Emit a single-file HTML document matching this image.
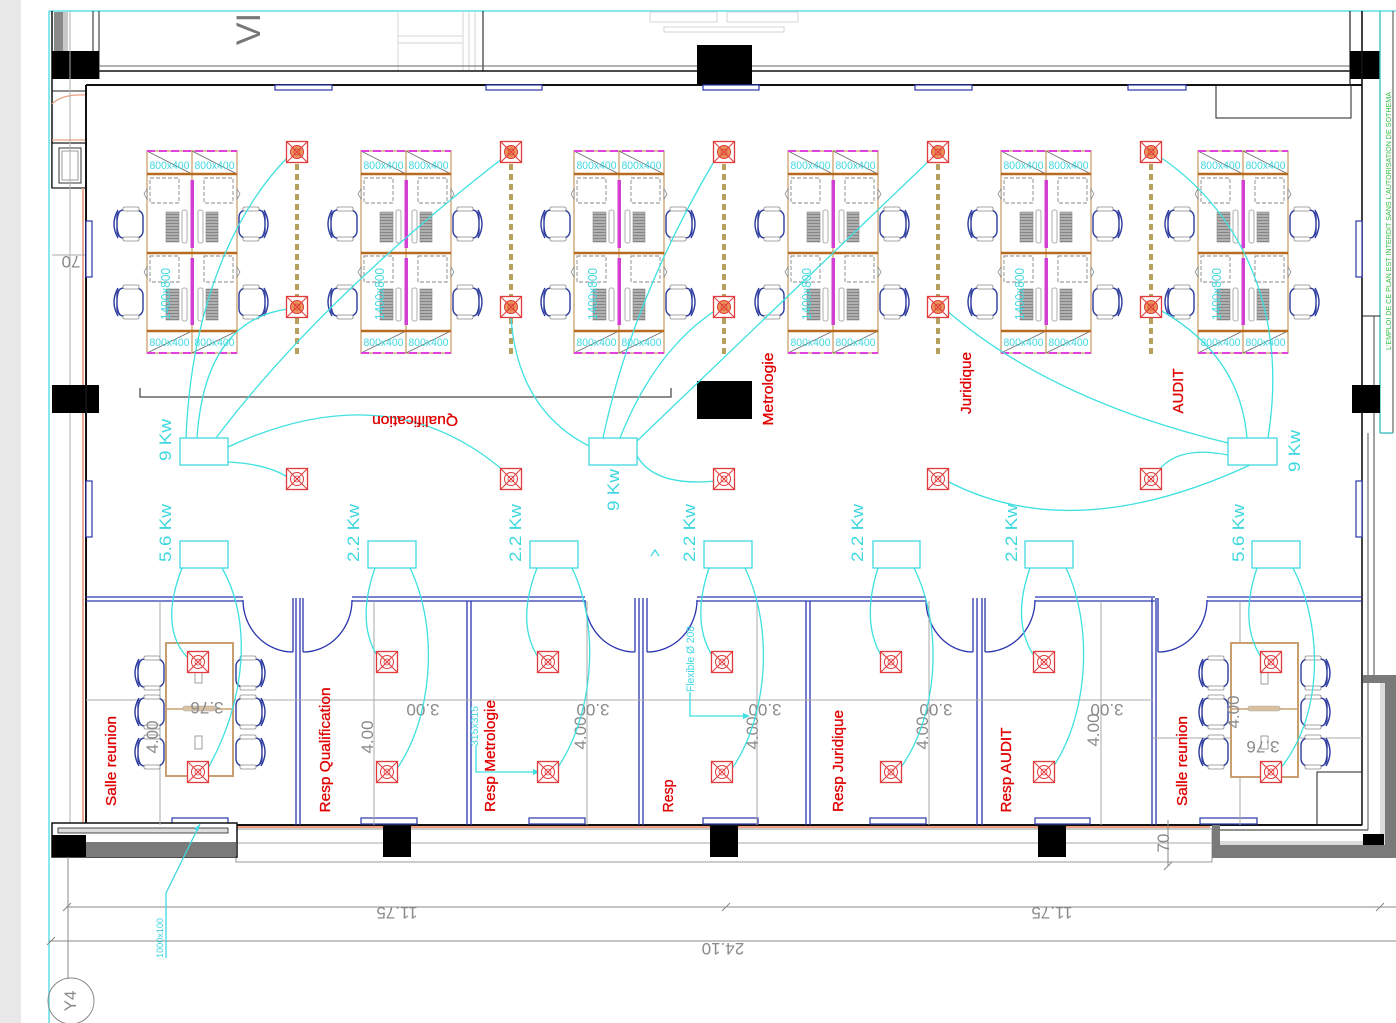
<!DOCTYPE html>
<html><head><meta charset="utf-8"><style>
html,body{margin:0;padding:0;background:#fff;}
svg{display:block}
text{font-family:"Liberation Sans",Arial,sans-serif}
</style></head><body>
<svg width="1396" height="1023" viewBox="0 0 1396 1023" xmlns="http://www.w3.org/2000/svg">
<defs>
<pattern id="tw" width="4" height="3" patternUnits="userSpaceOnUse"><rect width="4" height="3" fill="#b0b0b0"/><line x1="0" y1="0.5" x2="4" y2="0.5" stroke="#7a7a7a" stroke-width="0.8"/></pattern>
<g id="cl">
 <rect x="0" y="0" width="90" height="202" fill="#fff" stroke="#c99a60" stroke-width="1.2"/>
 <line x1="45" y1="0" x2="45" y2="202" stroke="#c99a60" stroke-width="1.2"/>
 <path d="M0,0 L45,23 M45,0 L90,23 M0,202 L45,180 M45,202 L90,180" stroke="#666" stroke-width="0.8" fill="none"/>
 <path d="M0,23 H90 M0,102 H90 M0,180 H90" stroke="#b86a20" stroke-width="2.5"/>
 <line x1="0" y1="0" x2="90" y2="0" stroke="#e040e0" stroke-width="2" stroke-dasharray="8,4"/>
 <line x1="0" y1="202" x2="90" y2="202" stroke="#e040e0" stroke-width="2" stroke-dasharray="8,4"/>
 <rect x="43.5" y="29" width="3.5" height="68" fill="#d23fd2"/>
 <rect x="43.5" y="107" width="3.5" height="67" fill="#d23fd2"/>
 <g fill="none" stroke="#888" stroke-width="0.9" stroke-dasharray="4,2">
  <rect x="3" y="27" width="29" height="25"/><rect x="57" y="27" width="29" height="25"/>
  <rect x="3" y="105" width="29" height="26"/><rect x="57" y="105" width="29" height="26"/>
 </g>
 <g fill="url(#tw)" stroke="#888" stroke-width="0.6">
  <rect x="19" y="61" width="13" height="30"/><rect x="59" y="61" width="12" height="30"/>
  <rect x="19" y="138" width="13" height="31"/><rect x="59" y="138" width="12" height="31"/>
 </g>
 <g fill="#fff" stroke="#999" stroke-width="0.8">
  <rect x="35" y="59" width="5" height="33" rx="2"/><rect x="51" y="59" width="5" height="33" rx="2"/>
  <rect x="35" y="137" width="5" height="33" rx="2"/><rect x="51" y="137" width="5" height="33" rx="2"/>
 </g>
 <g fill="#fff" stroke="#777" stroke-width="0.7">
  <path d="M0,38 L-3,43 L0,48 Z"/><path d="M90,38 L93,43 L90,48 Z"/>
  <path d="M0,116 L-3,121 L0,126 Z"/><path d="M90,116 L93,121 L90,126 Z"/>
 </g>
</g>
<g id="ch">
 <rect x="4" y="3" width="26" height="28" rx="7" fill="#fff" stroke="#2b3a9e" stroke-width="1.4"/>
 <path d="M5,3 Q-3,17 5,31" fill="none" stroke="#2b3a9e" stroke-width="1.4"/>
 <path d="M7,4 Q1,17 7,30" fill="none" stroke="#2b3a9e" stroke-width="0.8"/>
 <rect x="10" y="0" width="16" height="4" rx="1.5" fill="#fff" stroke="#888" stroke-width="0.8"/>
 <rect x="10" y="30" width="16" height="4" rx="1.5" fill="#fff" stroke="#888" stroke-width="0.8"/>
</g>
<g id="rbf">
 <rect x="-10.5" y="-10.5" width="21" height="21" fill="#fff" stroke="#e23a3a" stroke-width="1.3"/>
 <circle r="6.5" fill="#e8945a"/>
 <path d="M-10.5,-10.5 L10.5,10.5 M10.5,-10.5 L-10.5,10.5" stroke="#e23a3a" stroke-width="1"/>
 <circle r="6.5" fill="none" stroke="#e23a3a" stroke-width="1"/>
 <circle r="3" fill="none" stroke="#e23a3a" stroke-width="0.8"/>
</g>
<g id="rb">
 <rect x="-10.5" y="-10.5" width="21" height="21" fill="#fff" stroke="#e23a3a" stroke-width="1.3"/>
 <path d="M-10.5,-10.5 L10.5,10.5 M10.5,-10.5 L-10.5,10.5" stroke="#e23a3a" stroke-width="1"/>
 <circle r="6.5" fill="none" stroke="#e23a3a" stroke-width="1"/>
 <circle r="3" fill="none" stroke="#e23a3a" stroke-width="0.8"/>
</g>
</defs>

<!-- background strips -->
<rect x="0" y="0" width="21" height="1023" fill="#e8e8e8"/>
<line x1="49" y1="11" x2="49" y2="1023" stroke="#5fe0e6" stroke-width="1.5"/>
<line x1="49" y1="11" x2="1396" y2="11" stroke="#5fe0e6" stroke-width="1.5"/>

<!-- faint gray top items -->
<g fill="none" stroke="#d4d4d4" stroke-width="1">
 <rect x="650" y="12" width="67" height="10"/><rect x="727" y="12" width="71" height="10"/><rect x="664" y="27" width="120" height="5"/>
 <line x1="398" y1="11" x2="398" y2="71"/><line x1="398" y1="36" x2="463" y2="36"/><line x1="398" y1="43" x2="463" y2="43"/>
 <line x1="463" y1="11" x2="463" y2="71"/><line x1="469" y1="11" x2="469" y2="71"/><line x1="475" y1="11" x2="475" y2="71"/>
</g>
<line x1="483" y1="11" x2="483" y2="71" stroke="#333" stroke-width="1.2"/>
<text transform="translate(248,29) rotate(-90)" text-anchor="middle" y="12" font-size="34" fill="#777">VI</text>

<!-- top-left column -->
<rect x="54" y="12" width="14" height="39" fill="#8a8a8a"/>
<rect x="63" y="12" width="5" height="39" fill="#c8c8c8"/>
<line x1="52" y1="11" x2="52" y2="188" stroke="#111" stroke-width="1.5"/>
<line x1="93" y1="11" x2="93" y2="79" stroke="#222" stroke-width="1"/>
<line x1="99" y1="11" x2="99" y2="79" stroke="#222" stroke-width="1"/>
<rect x="52" y="51" width="47" height="28" fill="#000"/>
<line x1="52" y1="91" x2="86" y2="91" stroke="#222" stroke-width="1"/>
<path d="M52,104 Q62,94 85,95" fill="none" stroke="#e8a080" stroke-width="1.2"/>
<line x1="52" y1="140" x2="86" y2="140" stroke="#e8a080" stroke-width="1.2"/>
<rect x="52" y="143" width="34" height="45" fill="#fff" stroke="#111" stroke-width="1.2"/>
<rect x="59" y="148" width="22" height="35" fill="none" stroke="#333" stroke-width="1"/>
<rect x="62" y="151" width="16" height="29" fill="none" stroke="#999" stroke-width="1"/>
<line x1="70" y1="11" x2="70" y2="825" stroke="#b0b0b0" stroke-width="1"/>
<line x1="83" y1="188" x2="83" y2="825" stroke="#eba088" stroke-width="1.8"/>
<line x1="52" y1="255" x2="86" y2="255" stroke="#aaa" stroke-width="1"/>
<text transform="translate(71,262) rotate(180)" text-anchor="middle" y="6" font-size="17" fill="#8a8a8a">70</text>

<!-- top walls -->
<line x1="99" y1="66" x2="1350" y2="66" stroke="#666" stroke-width="1"/>
<line x1="99" y1="71" x2="1350" y2="71" stroke="#111" stroke-width="1.5"/>
<line x1="86" y1="85" x2="1362" y2="85" stroke="#111" stroke-width="2"/>
<rect x="697" y="45" width="55" height="40" fill="#000"/>

<!-- right side -->
<line x1="1350" y1="11" x2="1350" y2="85" stroke="#222" stroke-width="1.2"/>
<rect x="1350" y="51" width="30" height="28" fill="#000"/>
<line x1="1362" y1="11" x2="1362" y2="825" stroke="#111" stroke-width="1.6"/>
<line x1="1380" y1="11" x2="1380" y2="433" stroke="#40c0c0" stroke-width="1.4"/>
<line x1="1393" y1="11" x2="1393" y2="433" stroke="#444" stroke-width="1"/>
<line x1="1380" y1="433" x2="1393" y2="433" stroke="#40c0c0" stroke-width="1.4"/>
<text transform="translate(1388,221) rotate(-90)" text-anchor="middle" y="3" font-size="7.5" fill="#30c040" textLength="258" lengthAdjust="spacingAndGlyphs">L'EMPLOI DE CE PLAN EST INTERDIT SANS L'AUTORISATION DE SOTHEMA</text>
<rect x="1216" y="85" width="135" height="33" fill="none" stroke="#222" stroke-width="1"/>
<line x1="1362" y1="316" x2="1380" y2="316" stroke="#222" stroke-width="1"/>
<line x1="1374" y1="316" x2="1374" y2="675" stroke="#444" stroke-width="1"/>
<line x1="1368" y1="433" x2="1368" y2="830" stroke="#555" stroke-width="1"/>
<rect x="1352" y="385" width="28" height="28" fill="#000"/>
<rect x="52" y="385" width="47" height="28" fill="#000"/>

<!-- main room walls -->
<line x1="86" y1="85" x2="86" y2="825" stroke="#111" stroke-width="2"/>
<line x1="86" y1="825" x2="1362" y2="825" stroke="#111" stroke-width="2"/>

<!-- windows -->
<g fill="#fff" stroke="#2b36a8" stroke-width="1.2">
 <rect x="275" y="85" width="57" height="5"/><rect x="486" y="85" width="56" height="5"/><rect x="703" y="85" width="56" height="5"/><rect x="915" y="85" width="57" height="5"/><rect x="1128" y="85" width="58" height="5"/>
 <rect x="172" y="818" width="56" height="6"/><rect x="361" y="818" width="56" height="6"/><rect x="529" y="818" width="56" height="6"/><rect x="703" y="818" width="55" height="6"/><rect x="870" y="818" width="56" height="6"/><rect x="1035" y="818" width="55" height="6"/><rect x="1200" y="818" width="57" height="6"/>
 <rect x="86" y="221" width="6" height="56"/><rect x="86" y="481" width="6" height="56"/>
 <rect x="1356" y="221" width="6" height="56"/><rect x="1356" y="481" width="6" height="56"/>
</g>

<!-- bottom strip -->
<line x1="236" y1="827" x2="1210" y2="827" stroke="#f0a080" stroke-width="2"/>
<rect x="236" y="829" width="976" height="33" fill="none" stroke="#999" stroke-width="1"/>
<line x1="236" y1="843" x2="1212" y2="843" stroke="#aaa" stroke-width="1"/>
<rect x="383" y="826" width="28" height="31" fill="#000"/>
<rect x="710" y="826" width="28" height="31" fill="#000"/>
<rect x="1038" y="826" width="28" height="31" fill="#000"/>
<!-- bottom left -->
<rect x="52" y="823" width="185" height="34" fill="#fff" stroke="#111" stroke-width="1.5"/>
<rect x="58" y="828" width="170" height="5" fill="#ddd" stroke="#222" stroke-width="0.8"/>
<rect x="86" y="842" width="150" height="15" fill="#7a7a7a"/>
<rect x="52" y="835" width="34" height="22" fill="#000"/>
<!-- bottom right -->
<path d="M1212,825 H1220 V845 H1380 V683 H1363 V675 H1396 V858 H1212 Z" fill="#7a7a7a"/>
<rect x="1220" y="841" width="160" height="4" fill="#dcdcdc"/>
<rect x="1380" y="683" width="5" height="162" fill="#dcdcdc"/>
<line x1="1220" y1="830" x2="1368" y2="830" stroke="#222" stroke-width="1"/>
<rect x="1363" y="834" width="21" height="11" fill="#000"/>
<rect x="1317" y="772" width="45" height="53" fill="none" stroke="#222" stroke-width="1"/>

<!-- dimension lines bottom -->
<g stroke="#888" stroke-width="1" fill="none">
 <line x1="66" y1="907" x2="1396" y2="907"/>
 <line x1="49" y1="941" x2="1396" y2="941"/>
 <line x1="68" y1="857" x2="68" y2="979"/>
 <path d="M63,911 L71,903 M722,911 L730,903 M1376,911 L1384,903 M47,945 L55,937"/>
 <circle cx="71" cy="1001" r="23"/>
 <line x1="1168" y1="820" x2="1168" y2="866"/>
 <path d="M1164,870 L1172,862"/>
</g>
<g fill="#8a8a8a" font-size="17" text-anchor="middle">
 <text transform="translate(397,913) rotate(180)" y="6">11.75</text>
 <text transform="translate(1052,913) rotate(180)" y="6">11.75</text>
 <text transform="translate(723,949) rotate(180)" y="6">24.10</text>
 <text transform="translate(70,1001) rotate(-90)" y="6">Y4</text>
 <text transform="translate(1163,843) rotate(-90)" y="6">70</text>
</g>
<path d="M200,824 L166,893 L166,958" fill="none" stroke="#3fd8e0" stroke-width="1.3"/>
<path d="M200,824 L194,829 L198,831 Z" fill="#3fd8e0"/>
<text transform="translate(160,938) rotate(-90)" text-anchor="middle" y="3" font-size="9" fill="#3fd8e0" textLength="40" lengthAdjust="spacingAndGlyphs">1000x100</text>

<!-- workstation clusters -->
<use href="#cl" x="147" y="151"/>
<use href="#cl" x="361" y="151"/>
<use href="#cl" x="574" y="151"/>
<use href="#cl" x="788" y="151"/>
<use href="#cl" x="1001" y="151"/>
<use href="#cl" x="1198" y="151"/>
<g fill="#3fd8e0" font-size="11" text-anchor="middle">
 <text x="169.5" y="169" textLength="40" lengthAdjust="spacingAndGlyphs">800x400</text><text x="214.5" y="169" textLength="40" lengthAdjust="spacingAndGlyphs">800x400</text><text x="169.5" y="346" textLength="40" lengthAdjust="spacingAndGlyphs">800x400</text><text x="214.5" y="346" textLength="40" lengthAdjust="spacingAndGlyphs">800x400</text>
 <text x="383.5" y="169" textLength="40" lengthAdjust="spacingAndGlyphs">800x400</text><text x="428.5" y="169" textLength="40" lengthAdjust="spacingAndGlyphs">800x400</text><text x="383.5" y="346" textLength="40" lengthAdjust="spacingAndGlyphs">800x400</text><text x="428.5" y="346" textLength="40" lengthAdjust="spacingAndGlyphs">800x400</text>
 <text x="596.5" y="169" textLength="40" lengthAdjust="spacingAndGlyphs">800x400</text><text x="641.5" y="169" textLength="40" lengthAdjust="spacingAndGlyphs">800x400</text><text x="596.5" y="346" textLength="40" lengthAdjust="spacingAndGlyphs">800x400</text><text x="641.5" y="346" textLength="40" lengthAdjust="spacingAndGlyphs">800x400</text>
 <text x="810.5" y="169" textLength="40" lengthAdjust="spacingAndGlyphs">800x400</text><text x="855.5" y="169" textLength="40" lengthAdjust="spacingAndGlyphs">800x400</text><text x="810.5" y="346" textLength="40" lengthAdjust="spacingAndGlyphs">800x400</text><text x="855.5" y="346" textLength="40" lengthAdjust="spacingAndGlyphs">800x400</text>
 <text x="1023.5" y="169" textLength="40" lengthAdjust="spacingAndGlyphs">800x400</text><text x="1068.5" y="169" textLength="40" lengthAdjust="spacingAndGlyphs">800x400</text><text x="1023.5" y="346" textLength="40" lengthAdjust="spacingAndGlyphs">800x400</text><text x="1068.5" y="346" textLength="40" lengthAdjust="spacingAndGlyphs">800x400</text>
 <text x="1220.5" y="169" textLength="40" lengthAdjust="spacingAndGlyphs">800x400</text><text x="1265.5" y="169" textLength="40" lengthAdjust="spacingAndGlyphs">800x400</text><text x="1220.5" y="346" textLength="40" lengthAdjust="spacingAndGlyphs">800x400</text><text x="1265.5" y="346" textLength="40" lengthAdjust="spacingAndGlyphs">800x400</text>
</g>
<g fill="#3fd8e0" font-size="13" text-anchor="middle">
 <text transform="translate(165,294) rotate(-90)" y="5" textLength="52" lengthAdjust="spacingAndGlyphs">1400x800</text>
 <text transform="translate(379,294) rotate(-90)" y="5" textLength="52" lengthAdjust="spacingAndGlyphs">1400x800</text>
 <text transform="translate(592,294) rotate(-90)" y="5" textLength="52" lengthAdjust="spacingAndGlyphs">1400x800</text>
 <text transform="translate(806,294) rotate(-90)" y="5" textLength="52" lengthAdjust="spacingAndGlyphs">1400x800</text>
 <text transform="translate(1019,294) rotate(-90)" y="5" textLength="52" lengthAdjust="spacingAndGlyphs">1400x800</text>
 <text transform="translate(1216,294) rotate(-90)" y="5" textLength="52" lengthAdjust="spacingAndGlyphs">1400x800</text>
</g>

<!-- chairs for clusters -->
<use href="#ch" x="113" y="207"/><use href="#ch" x="113" y="285"/>
<use href="#ch" transform="translate(269,207) scale(-1,1)"/><use href="#ch" transform="translate(269,285) scale(-1,1)"/>
<use href="#ch" x="327" y="207"/><use href="#ch" x="327" y="285"/>
<use href="#ch" transform="translate(483,207) scale(-1,1)"/><use href="#ch" transform="translate(483,285) scale(-1,1)"/>
<use href="#ch" x="540" y="207"/><use href="#ch" x="540" y="285"/>
<use href="#ch" transform="translate(696,207) scale(-1,1)"/><use href="#ch" transform="translate(696,285) scale(-1,1)"/>
<use href="#ch" x="754" y="207"/><use href="#ch" x="754" y="285"/>
<use href="#ch" transform="translate(910,207) scale(-1,1)"/><use href="#ch" transform="translate(910,285) scale(-1,1)"/>
<use href="#ch" x="967" y="207"/><use href="#ch" x="967" y="285"/>
<use href="#ch" transform="translate(1123,207) scale(-1,1)"/><use href="#ch" transform="translate(1123,285) scale(-1,1)"/>
<use href="#ch" x="1164" y="207"/><use href="#ch" x="1164" y="285"/>
<use href="#ch" transform="translate(1320,207) scale(-1,1)"/><use href="#ch" transform="translate(1320,285) scale(-1,1)"/>

<!-- dashed tan lines -->
<g stroke="#b5a060" stroke-width="4" stroke-dasharray="6,4">
 <line x1="297" y1="164" x2="297" y2="296"/><line x1="297" y1="318" x2="297" y2="357"/>
 <line x1="511" y1="164" x2="511" y2="296"/><line x1="511" y1="318" x2="511" y2="357"/>
 <line x1="724" y1="164" x2="724" y2="296"/><line x1="724" y1="318" x2="724" y2="357"/>
 <line x1="938" y1="164" x2="938" y2="296"/><line x1="938" y1="318" x2="938" y2="357"/>
 <line x1="1151" y1="164" x2="1151" y2="296"/><line x1="1151" y1="318" x2="1151" y2="357"/>
</g>

<!-- bracket + black block -->
<path d="M140,388 V397 H671 V388" fill="none" stroke="#666" stroke-width="1.5"/>
<rect x="697" y="381" width="55" height="38" fill="#000"/>

<!-- office partitions -->
<g stroke="#2b36b0" stroke-width="1.3" fill="none">
 <path d="M86,597 H243 M86,601 H243 M352,597 H585 M352,601 H585 M697,597 H926 M697,601 H926 M1035,597 H1155 M1035,601 H1155 M1207,597 H1362 M1207,601 H1362"/>
 <path d="M293,598 V652 M296,598 V825 M300,598 V825 M303,598 V652"/>
 <path d="M467,601 V825 M471,601 V825"/>
 <path d="M635,598 V652 M639,598 V825 M643,598 V825 M647,598 V652"/>
 <path d="M806,601 V825 M810,601 V825"/>
 <path d="M973,598 V652 M977,598 V825 M982,598 V825 M985,598 V652"/>
 <path d="M1152,598 V825 M1156,598 V825 M1158,598 V652"/>
 <path d="M243,600 A50,52 0 0 0 293,652"/>
 <path d="M303,652 A49,52 0 0 0 352,600"/>
 <path d="M585,600 A50,52 0 0 0 635,652"/>
 <path d="M647,652 A50,52 0 0 0 697,600"/>
 <path d="M926,600 A47,52 0 0 0 973,652"/>
 <path d="M985,652 A50,52 0 0 0 1035,600"/>
 <path d="M1158,652 A49,52 0 0 0 1207,600"/>
</g>

<!-- office dimension lines -->
<g stroke="#a8a8a8" stroke-width="1" fill="none">
 <line x1="86" y1="700" x2="1153" y2="700"/>
 <line x1="1153" y1="738" x2="1362" y2="738"/>
 <line x1="160" y1="601" x2="160" y2="825"/>
 <line x1="374" y1="601" x2="374" y2="825"/>
 <line x1="587" y1="601" x2="587" y2="825"/>
 <line x1="757" y1="601" x2="757" y2="825"/>
 <line x1="929" y1="601" x2="929" y2="825"/>
 <line x1="1101" y1="601" x2="1101" y2="825"/>
 <line x1="1240" y1="601" x2="1240" y2="825"/>
</g>

<!-- meeting tables -->
<rect x="166" y="643" width="67" height="133" fill="#fff" stroke="#c8a070" stroke-width="2"/>
<line x1="166" y1="709" x2="233" y2="709" stroke="#c8a070" stroke-width="1.5"/>
<rect x="183" y="706" width="32" height="5" rx="2" fill="#d8c0a0" stroke="#aaa" stroke-width="0.6"/>
<rect x="1231" y="643" width="67" height="134" fill="#fff" stroke="#c8a070" stroke-width="2"/>
<line x1="1231" y1="709" x2="1298" y2="709" stroke="#c8a070" stroke-width="1.5"/>
<rect x="1248" y="706" width="32" height="5" rx="2" fill="#d8c0a0" stroke="#aaa" stroke-width="0.6"/>
<g fill="#fff" stroke="#888" stroke-width="0.8">
 <rect x="195" y="670" width="7" height="13"/><rect x="195" y="736" width="7" height="13"/>
 <rect x="1261" y="671" width="7" height="13"/><rect x="1261" y="736" width="7" height="13"/>
</g>
<use href="#ch" x="134" y="656"/><use href="#ch" x="134" y="695"/><use href="#ch" x="134" y="735"/>
<use href="#ch" transform="translate(266,656) scale(-1,1)"/><use href="#ch" transform="translate(266,695) scale(-1,1)"/><use href="#ch" transform="translate(266,735) scale(-1,1)"/>
<use href="#ch" x="1198" y="656"/><use href="#ch" x="1198" y="695"/><use href="#ch" x="1198" y="735"/>
<use href="#ch" transform="translate(1331,656) scale(-1,1)"/><use href="#ch" transform="translate(1331,695) scale(-1,1)"/><use href="#ch" transform="translate(1331,735) scale(-1,1)"/>

<!-- gray dim texts -->
<g fill="#8a8a8a" font-size="17" text-anchor="middle">
 <text transform="translate(423,710) rotate(180)" y="6">3.00</text>
 <text transform="translate(593,710) rotate(180)" y="6">3.00</text>
 <text transform="translate(765,710) rotate(180)" y="6">3.00</text>
 <text transform="translate(936,710) rotate(180)" y="6">3.00</text>
 <text transform="translate(1107,710) rotate(180)" y="6">3.00</text>
 <text transform="translate(207,708) rotate(180)" y="6">3.76</text>
 <text transform="translate(1263,747) rotate(180)" y="6">3.76</text>
 <text transform="translate(152,737) rotate(-90)" y="6">4.00</text>
 <text transform="translate(367,737) rotate(-90)" y="6">4.00</text>
 <text transform="translate(580,733) rotate(-90)" y="6">4.00</text>
 <text transform="translate(752,733) rotate(-90)" y="6">4.00</text>
 <text transform="translate(922,733) rotate(-90)" y="6">4.00</text>
 <text transform="translate(1093,730) rotate(-90)" y="6">4.00</text>
 <text transform="translate(1233,712) rotate(-90)" y="6">4.00</text>
</g>

<!-- cyan panels -->
<g fill="#fff" stroke="#3fd8e0" stroke-width="1.3">
 <rect x="180" y="438" width="48" height="27"/><rect x="589" y="438" width="48" height="27"/><rect x="1228" y="438" width="49" height="27"/>
 <rect x="180" y="541" width="48" height="27"/><rect x="368" y="541" width="48" height="27"/><rect x="530" y="541" width="48" height="27"/><rect x="704" y="541" width="48" height="27"/><rect x="873" y="541" width="47" height="27"/><rect x="1025" y="541" width="48" height="27"/><rect x="1252" y="541" width="48" height="27"/>
</g>
<g fill="#3fd8e0" font-size="17" text-anchor="middle">
 <text transform="translate(165,440) rotate(-90)" y="6" textLength="42" lengthAdjust="spacingAndGlyphs">9 Kw</text>
 <text transform="translate(613,490) rotate(-90)" y="6" textLength="42" lengthAdjust="spacingAndGlyphs">9 Kw</text>
 <text transform="translate(1294,451) rotate(-90)" y="6" textLength="42" lengthAdjust="spacingAndGlyphs">9 Kw</text>
 <text transform="translate(165,533) rotate(-90)" y="6" textLength="58" lengthAdjust="spacingAndGlyphs">5.6 Kw</text>
 <text transform="translate(353,533) rotate(-90)" y="6" textLength="58" lengthAdjust="spacingAndGlyphs">2.2 Kw</text>
 <text transform="translate(515,533) rotate(-90)" y="6" textLength="58" lengthAdjust="spacingAndGlyphs">2.2 Kw</text>
 <text transform="translate(689,533) rotate(-90)" y="6" textLength="58" lengthAdjust="spacingAndGlyphs">2.2 Kw</text>
 <text transform="translate(857,533) rotate(-90)" y="6" textLength="58" lengthAdjust="spacingAndGlyphs">2.2 Kw</text>
 <text transform="translate(1011,533) rotate(-90)" y="6" textLength="58" lengthAdjust="spacingAndGlyphs">2.2 Kw</text>
 <text transform="translate(1238,533) rotate(-90)" y="6" textLength="58" lengthAdjust="spacingAndGlyphs">5.6 Kw</text>
</g>
<path d="M651,556 L655,550 L659,556" fill="none" stroke="#3fd8e0" stroke-width="1.2"/>

<!-- cyan cables -->
<g fill="none" stroke="#3fe0e0" stroke-width="1.3">
 <path d="M288,157 C245,200 192,290 186,438"/>
 <path d="M288,309 Q205,320 197,438"/>
 <path d="M503,158 Q320,300 216,438"/>
 <path d="M228,447 Q390,372 505,472"/>
 <path d="M228,462 Q268,464 289,478"/>
 <path d="M511,318 Q518,410 589,446"/>
 <path d="M716,158 Q632,300 603,438"/>
 <path d="M620,438 Q655,350 716,310"/>
 <path d="M637,441 L932,158"/>
 <path d="M637,456 Q655,487 716,481"/>
 <path d="M946,310 Q1050,400 1228,443"/>
 <path d="M1160,157 C1232,205 1290,300 1268,438"/>
 <path d="M1160,310 Q1240,355 1247,438"/>
 <path d="M1228,455 Q1178,445 1158,471"/>
 <path d="M1250,465 Q1073,547 947,481"/>
 <path d="M182,568 Q158,630 190,660"/>
 <path d="M222,568 C252,620 247,700 207,770"/>
 <path d="M375,568 Q355,625 380,660"/>
 <path d="M410,568 C440,630 432,720 396,770"/>
 <path d="M537,568 Q515,625 540,660"/>
 <path d="M572,568 C602,630 592,720 556,770"/>
 <path d="M709,568 Q690,625 715,660"/>
 <path d="M745,568 C775,630 767,720 731,770"/>
 <path d="M878,568 Q860,625 884,660"/>
 <path d="M914,568 C945,630 937,720 899,770"/>
 <path d="M1030,568 Q1010,625 1037,660"/>
 <path d="M1066,568 C1095,630 1087,720 1051,770"/>
 <path d="M1257,568 Q1238,625 1263,660"/>
 <path d="M1293,568 C1325,630 1322,720 1279,770"/>
 <path d="M476,745 V772 H536"/>
 <path d="M690,692 V716 H746"/>
</g>
<path d="M540,772 L533,769 L533,775 Z" fill="#3fe0e0"/>
<path d="M750,716 L743,713 L743,719 Z" fill="#3fe0e0"/>
<g fill="#3fd8e0" text-anchor="middle">
 <text transform="translate(474,726) rotate(-90)" y="4" font-size="10" textLength="40" lengthAdjust="spacingAndGlyphs">315x315</text>
 <text transform="translate(690,659) rotate(-90)" y="4" font-size="11" textLength="66" lengthAdjust="spacingAndGlyphs">Flexible Ø 208</text>
</g>

<!-- red electrical boxes -->
<use href="#rbf" x="297" y="152"/><use href="#rbf" x="511" y="152"/><use href="#rbf" x="724" y="152"/><use href="#rbf" x="938" y="152"/><use href="#rbf" x="1151" y="152"/>
<use href="#rbf" x="297" y="307"/><use href="#rbf" x="511" y="307"/><use href="#rbf" x="724" y="307"/><use href="#rbf" x="938" y="307"/><use href="#rbf" x="1151" y="307"/>
<use href="#rb" x="297" y="479"/><use href="#rb" x="511" y="479"/><use href="#rb" x="724" y="479"/><use href="#rb" x="938" y="479"/><use href="#rb" x="1151" y="479"/>
<use href="#rb" x="198" y="662"/><use href="#rb" x="387" y="662"/><use href="#rb" x="548" y="662"/><use href="#rb" x="722" y="662"/><use href="#rb" x="891" y="662"/><use href="#rb" x="1044" y="662"/><use href="#rb" x="1271" y="662"/>
<use href="#rb" x="198" y="772"/><use href="#rb" x="387" y="772"/><use href="#rb" x="548" y="772"/><use href="#rb" x="722" y="772"/><use href="#rb" x="891" y="772"/><use href="#rb" x="1044" y="772"/><use href="#rb" x="1271" y="772"/>

<!-- red labels -->
<g fill="#e00000" font-size="15" text-anchor="middle" stroke="#e00000" stroke-width="0.3">
 <text transform="translate(768,389) rotate(-90)" y="5" textLength="73" lengthAdjust="spacingAndGlyphs">Metrologie</text>
 <text transform="translate(966,383) rotate(-90)" y="5" textLength="62" lengthAdjust="spacingAndGlyphs">Juridique</text>
 <text transform="translate(1178,391) rotate(-90)" y="5" textLength="45" lengthAdjust="spacingAndGlyphs">AUDIT</text>
 <text transform="translate(415,421) rotate(180)" y="5" textLength="86" lengthAdjust="spacingAndGlyphs">Qualification</text>
 <text transform="translate(111,761) rotate(-90)" y="5" textLength="90" lengthAdjust="spacingAndGlyphs">Salle reunion</text>
 <text transform="translate(325,750) rotate(-90)" y="5" textLength="125" lengthAdjust="spacingAndGlyphs">Resp Qualification</text>
 <text transform="translate(490,756) rotate(-90)" y="5" textLength="112" lengthAdjust="spacingAndGlyphs">Resp Metrologie</text>
 <text transform="translate(668,796) rotate(-90)" y="5" textLength="33" lengthAdjust="spacingAndGlyphs">Resp</text>
 <text transform="translate(838,761) rotate(-90)" y="5" textLength="102" lengthAdjust="spacingAndGlyphs">Resp Juridique</text>
 <text transform="translate(1006,770) rotate(-90)" y="5" textLength="85" lengthAdjust="spacingAndGlyphs">Resp AUDIT</text>
 <text transform="translate(1182,761) rotate(-90)" y="5" textLength="90" lengthAdjust="spacingAndGlyphs">Salle reunion</text>
</g>
</svg>
</body></html>
